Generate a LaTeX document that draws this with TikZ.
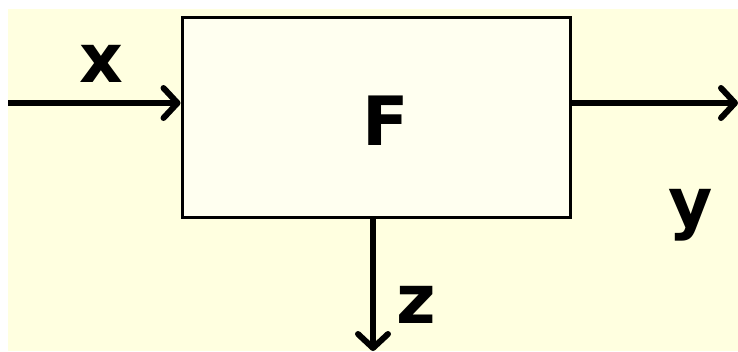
\documentclass[tikz,border=0pt]{standalone}
\usepackage{fontspec}
\setmainfont{DejaVu Sans}
\usetikzlibrary{arrows.meta}
\definecolor{bgyellow}{RGB}{255,255,224}
\definecolor{boxyellow}{RGB}{255,255,240}
\begin{document}
\begin{tikzpicture}[x=1pt,y=-1pt,
  lbl/.style={inner sep=0pt,anchor=base,font=\fontsize{68}{68}\selectfont\bfseries},
  flow/.style={line width=6pt,-{Straight Barb[length=14pt,width=30pt,line width=6pt,round]}},
  block/.style={draw,line width=3pt,fill=boxyellow,minimum width=388pt,minimum height=200pt,inner sep=0pt}]
\useasboundingbox (0,0) rectangle (738,351);
\fill[bgyellow] (8,9) rectangle (738,351);
\node[block] (F) at (376,117) {};
\node[lbl] (Flab) at (386,145) {F};
\node[lbl] (xlab) at (101,82) {x};
\node[lbl] (ylab) at (691,226) {y};
\node[lbl] (zlab) at (416,323) {z};
\coordinate (xin) at (8,103);
\coordinate (yout) at (738,103);
\coordinate (zout) at (373,351);
\draw[flow] (xin) -- (F.west |- xin);
\draw[flow] (F.east |- yout) -- (yout);
\draw[flow] (F.south -| zout) -- (zout);
\end{tikzpicture}
\end{document}
